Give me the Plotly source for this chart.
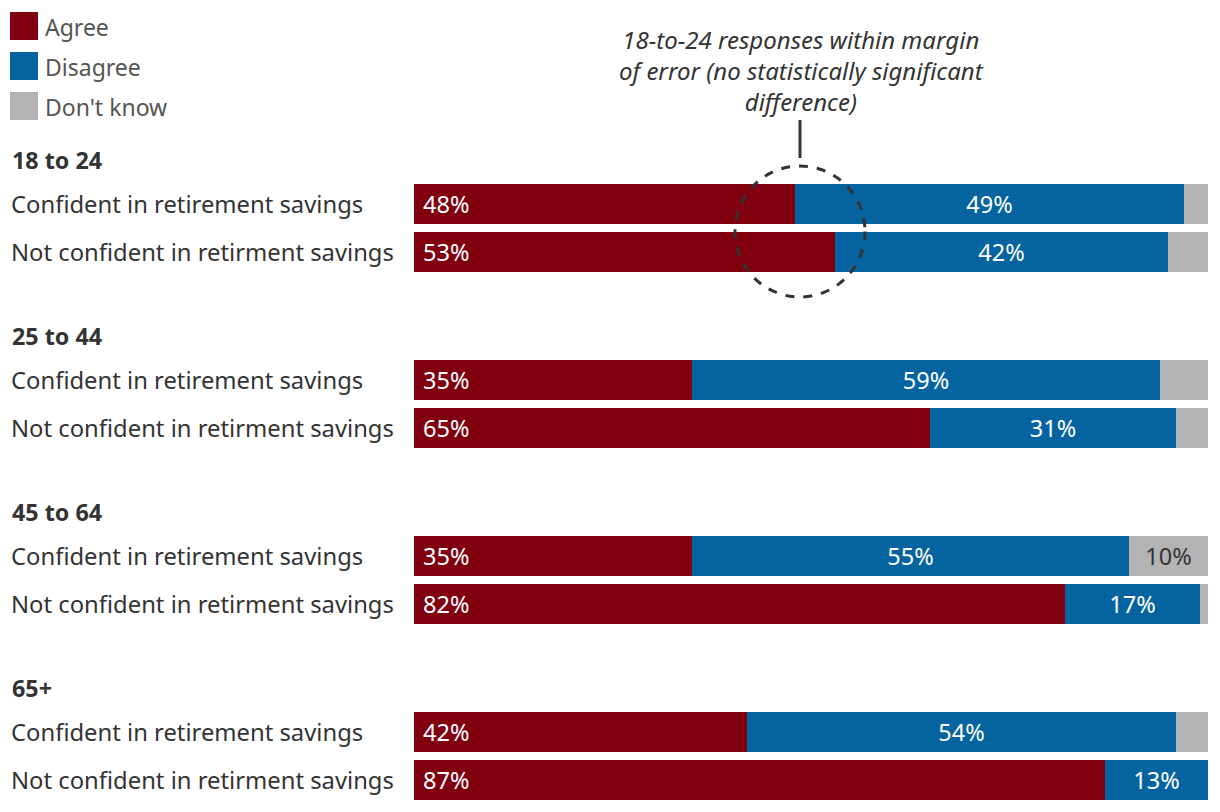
import plotly.graph_objects as go

W, H = 1220, 812

groups = ["18 to 24", "25 to 44", "45 to 64", "65+"]
rows = ["Confident in retirement savings", "Not confident in retirment savings"]

agree =    [48, 53, 35, 65, 35, 82, 42, 87]
disagree = [49, 42, 59, 31, 55, 17, 54, 13]
dontknow = [3, 5, 6, 4, 10, 1, 4, 0]

series = ["Agree", "Disagree", "Don't know"]
colors = ["#800010", "#0563a0", "#b3b3b3"]
callout_lines = ["18-to-24 responses within margin",
                 "of error (no statistically significant",
                 "difference)"]
FONT = "Noto Sans"

# layout positions (pixel-like units on a reversed y axis)
def row_y(i):
    g, r = divmod(i, 2)
    return 204 + g * 176 + r * 48

ys = [row_y(i) for i in range(len(agree))]

fig = go.Figure()

vals = [agree, disagree, dontknow]
for k, (name, col, v) in enumerate(zip(series, colors, vals)):
    texts = []
    for val in v:
        if k == 2 and val < 8:
            texts.append("")
        elif k == 0:
            texts.append(f"\u00a0{val}%")
        else:
            texts.append(f"{val}%")
    fig.add_trace(go.Bar(
        x=v, y=ys, orientation="h", name=name,
        marker=dict(color=col, line=dict(width=0)),
        width=40,
        text=texts,
        textposition="inside",
        insidetextanchor="start" if k == 0 else "middle",
        textfont=dict(family=FONT, size=23.5, color="#333333" if k == 2 else "white"),
        textangle=0,
        constraintext="none",
        cliponaxis=False,
        hoverinfo="skip",
        showlegend=False,
    ))

x0p, x1p = 414 / W, 1208 / W

annotations = []
shapes = []

# row labels and group titles
for i, y in enumerate(ys):
    annotations.append(dict(x=9 / W, xref="paper", y=y, yref="y", text=rows[i % 2],
                            showarrow=False, xanchor="left", yanchor="middle",
                            font=dict(family=FONT, size=23.8, color="#333333")))
for g, name in enumerate(groups):
    annotations.append(dict(x=10 / W, xref="paper", y=row_y(2 * g) - 44, yref="y",
                            text=f"<b>{name}</b>", showarrow=False, xanchor="left",
                            yanchor="middle", font=dict(family=FONT, size=23.3, color="#333333")))

# legend
for k, (name, col) in enumerate(zip(series, colors)):
    cy = 26 + k * 40
    shapes.append(dict(type="rect", xref="paper", yref="y", x0=10 / W, x1=38 / W,
                       y0=cy - 14, y1=cy + 14, fillcolor=col, line=dict(width=0)))
    annotations.append(dict(x=43 / W, xref="paper", y=cy + 1, yref="y", text=name,
                            showarrow=False, xanchor="left", yanchor="middle",
                            font=dict(family=FONT, size=23, color="#555555")))

# callout
annotations.append(dict(x=801 / W, xref="paper", y=70, yref="y",
                        text="<i>" + "<br>".join(callout_lines) + "</i>",
                        showarrow=False, xanchor="center", yanchor="middle", align="center",
                        font=dict(family=FONT, size=24, color="#333333")))
shapes.append(dict(type="line", xref="paper", yref="y", x0=800 / W, x1=800 / W,
                   y0=120, y1=158, line=dict(color="#333333", width=3)))
shapes.append(dict(type="circle", xref="paper", yref="y", x0=735 / W, x1=865 / W,
                   y0=166, y1=297, line=dict(color="#333333", width=3, dash="dash")))

fig.update_layout(
    width=W, height=H,
    margin=dict(l=0, r=0, t=0, b=0),
    barmode="stack",
    bargap=0,
    plot_bgcolor="white", paper_bgcolor="white",
    xaxis=dict(range=[0, 100], domain=[x0p, x1p], visible=False, fixedrange=True),
    yaxis=dict(range=[H, 0], visible=False, fixedrange=True),
    annotations=annotations,
    shapes=shapes,
    showlegend=False,
)

fig.write_html("out.html", config={"displayModeBar": False},
               post_script="document.body.style.margin='0px';document.body.style.padding='0px';")
